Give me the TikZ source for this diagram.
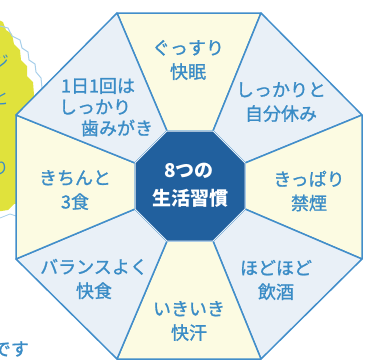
\documentclass[tikz,border=0pt]{standalone}
\usepackage{fontspec}
\setmainfont{Noto Sans CJK JP}
\newfontfamily\jpm[FakeBold=1.2]{Noto Sans CJK JP}
\definecolor{secY}{HTML}{FCFBE2}
\definecolor{secB}{HTML}{E9F0F7}
\definecolor{core}{HTML}{21609E}
\definecolor{txtB}{HTML}{3A8CC6}
\definecolor{lineB}{HTML}{428ECA}
\definecolor{blob}{HTML}{E0E23C}
\definecolor{cloud}{HTML}{A8CFEA}
\tikzset{
  sectorY/.style={fill=secY,draw=lineB,line width=1.5pt,line join=round},
  sectorB/.style={fill=secB,draw=lineB,line width=1.5pt,line join=round},
  lbl/.style={text=txtB,font=\jpm\fontsize{18}{24}\selectfont,align=center,inner sep=0pt},
  corelbl/.style={text=white,font=\bfseries\fontsize{19}{27}\selectfont,align=center,inner sep=0pt},
  bgtxt/.style={text=txtB,font=\fontsize{17}{20}\selectfont,inner sep=0pt,anchor=east}
}
\begin{document}
\begin{tikzpicture}[x=1pt,y=-1pt]
\useasboundingbox (0,0) rectangle (370,362);
\clip (0,0) rectangle (370,362);
% background pieces
\fill[blob] (-5,18) -- (3,22) -- (6,30) -- (12,34) -- (14,44) -- (20,50) -- (21,60) -- (27,66) -- (27,76) -- (33,82) -- (34,95) -- (40,104) -- (40,200) -- (14,204) -- (8,210) -- (-5,212) -- cycle;
\draw[cloud,line width=1pt] (0,26) -- (8,28) -- (12,36) -- (20,40) -- (22,48) -- (28,52) -- (29,60) -- (35,64) -- (36,72) -- (41,78) -- (42,88);
\draw[cloud,line width=0.8pt] (0,218) -- (10,214) -- (16,216);
\node[bgtxt] (bg1) at (9,62) {ジ};
\node[bgtxt] (bg2) at (9,98) {と};
\node[bgtxt] (bg3) at (9,168) {り};
\node[bgtxt,font=\jpm\fontsize{18}{20}\selectfont] (desu) at (29,349) {です};
% octagon coordinates
\coordinate (O1) at (117,13);  \coordinate (O2) at (261,13);
\coordinate (O3) at (362,115); \coordinate (O4) at (362,259);
\coordinate (O5) at (261,359); \coordinate (O6) at (117,359);
\coordinate (O7) at (16,259);  \coordinate (O8) at (16,115);
\coordinate (I1) at (167,131); \coordinate (I2) at (213,131);
\coordinate (I3) at (245,163); \coordinate (I4) at (245,209);
\coordinate (I5) at (213,241); \coordinate (I6) at (167,241);
\coordinate (I7) at (135,209); \coordinate (I8) at (135,163);
% sectors
\draw[sectorY] (O1) -- (O2) -- (I2) -- (I1) -- cycle;
\draw[sectorB] (O2) -- (O3) -- (I3) -- (I2) -- cycle;
\draw[sectorY] (O3) -- (O4) -- (I4) -- (I3) -- cycle;
\draw[sectorB] (O4) -- (O5) -- (I5) -- (I4) -- cycle;
\draw[sectorY] (O5) -- (O6) -- (I6) -- (I5) -- cycle;
\draw[sectorB] (O6) -- (O7) -- (I7) -- (I6) -- cycle;
\draw[sectorY] (O7) -- (O8) -- (I8) -- (I7) -- cycle;
\draw[sectorB] (O8) -- (O1) -- (I1) -- (I8) -- cycle;
% core
\draw[fill=core,draw=secB,line width=1pt] (I1) -- (I2) -- (I3) -- (I4) -- (I5) -- (I6) -- (I7) -- (I8) -- cycle;
\node[corelbl] (c1) at (189,171) {8つの};
\node[corelbl] (c2) at (190,198) {生活習慣};
% labels
\node[lbl] (t1) at (188,60) {ぐっすり\\快眠};
\node[lbl] (t2) at (281,102) {しっかりと\\自分休み};
\node[lbl] (t3) at (309,191) {きっぱり\\禁煙};
\node[lbl] (t4) at (276,280) {ほどほど\\飲酒};
\node[lbl] (t5) at (189,321) {いきいき\\快汗};
\node[lbl] (t6) at (94,279) {バランスよく\\快食};
\node[lbl] (t7) at (75,190) {きちんと\\3食};
\node[lbl] (t8a) at (98,86) {1日1回は};
\node[lbl] (t8b) at (95,107) {しっかり};
\node[lbl] (t8c) at (117,128) {歯みがき};
\end{tikzpicture}
\end{document}
